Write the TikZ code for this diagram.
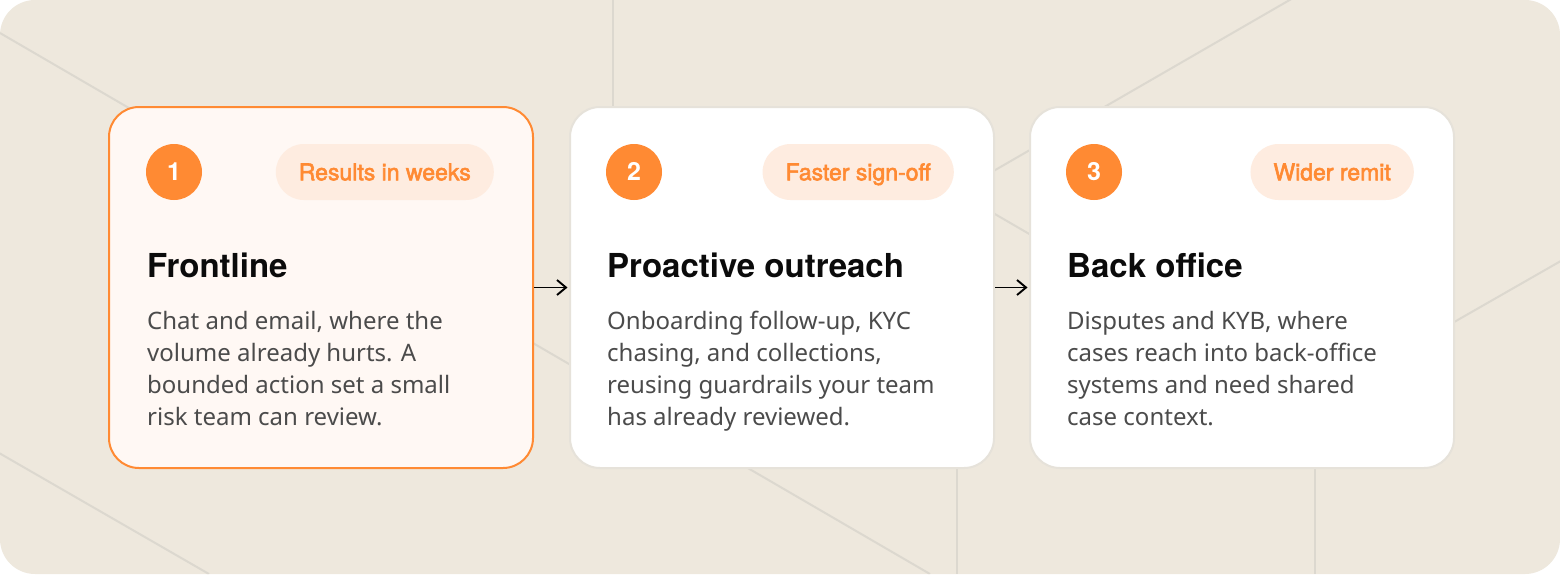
\documentclass[tikz,border=0pt]{standalone}
\usepackage{fontspec}
\usetikzlibrary{arrows.meta}
\newfontfamily\bodyfont{Noto Sans}
\newfontfamily\headfont{TeX Gyre Heros}
\newfontfamily\pillfont{TeX Gyre Heros}[FakeBold=2.5]
\definecolor{bgc}{HTML}{EEE8DD}
\definecolor{linec}{HTML}{DCD8CF}
\definecolor{orangec}{HTML}{FF8A33}
\definecolor{card1fill}{HTML}{FFF8F4}
\definecolor{cardborder}{HTML}{E6E2DA}
\definecolor{pillfill}{HTML}{FEECE0}
\definecolor{headc}{HTML}{0B0B0B}
\definecolor{bodyc}{HTML}{4B4B4B}
\tikzset{
  bgline/.style={draw=linec, line width=2pt},
  cardbox/.style={rounded corners=30pt, line width=2pt, minimum width=424pt, minimum height=361pt, anchor=north west, inner sep=0pt},
  activecard/.style={cardbox, draw=orangec, fill=card1fill},
  plaincard/.style={cardbox, draw=cardborder, fill=white},
  numdot/.style={circle, fill=orangec, minimum size=56pt, inner sep=0pt, text=white, text height=17.5pt, text depth=0pt, font=\headfont\bfseries\fontsize{25}{25}\selectfont},
  pill/.style={rounded corners=28pt, fill=pillfill, minimum height=56pt, inner xsep=23pt, inner ysep=0pt, text height=16.5pt, text depth=0pt, anchor=east, text=orangec, font=\pillfont\fontsize{23}{23}\selectfont},
  heading/.style={anchor=base west, inner sep=0pt, text=headc, font=\headfont\bfseries\fontsize{33}{33}\selectfont},
  bodytext/.style={anchor=base west, inner sep=0pt, text=bodyc, font=\bodyfont\fontsize{24}{32}\selectfont},
  flowarrow/.style={draw=black, line width=1.9pt, -{Straight Barb[length=9pt, width=15pt, line width=1.9pt]}, shorten >=1.5pt}
}
\newcommand{\bodypar}[1]{\parbox[t]{400pt}{\raggedright #1}}
\begin{document}
\begin{tikzpicture}[x=1pt, y=-1pt]
\useasboundingbox (0,0) rectangle (1560,574);
\fill[white] (0,0) rectangle (1560,574);
\fill[bgc, rounded corners=35pt] (0,0) rectangle (1560,574);
\begin{scope}
\clip[rounded corners=35pt] (0,0) rectangle (1560,574);
\draw[bgline] (0,33) -- (930,574);
\draw[bgline] (-20,442) -- (209,574);
\draw[bgline] (1300,-6) -- (900,225);
\draw[bgline] (900,159) -- (1100,275);
\draw[bgline] (1580,250) -- (1400,353);
\draw[bgline] (613,0) -- (613,200);
\draw[bgline] (957,400) -- (957,574);
\draw[bgline] (1315,400) -- (1315,574);
\end{scope}

% cards
\node[activecard] (c1) at (108,106) {};
\node[plaincard] (c2) at (569,106) {};
\node[plaincard] (c3) at (1029,106) {};

% number dots
\node[numdot] (n1) at (174,172) {1};
\node[numdot] (n2) at (634,172) {2};
\node[numdot] (n3) at (1094,172) {3};

% pills
\node[pill] (p1) at (494,172) {Results in weeks};
\node[pill] (p2) at (954,172) {Faster sign-off};
\node[pill] (p3) at (1414,172) {Wider remit};

% headings
\node[heading] (h1) at (147,277) {Frontline};
\node[heading] (h2) at (607,277) {Proactive outreach};
\node[heading] (h3) at (1067,277) {Back office};

% body
\node[bodytext] (b1) at (147,329) {\bodypar{Chat and email, where the\\volume already hurts. A\\bounded action set a small\\risk team can review.}};
\node[bodytext] (b2) at (607,329) {\bodypar{Onboarding follow-up, KYC\\chasing, and collections,\\reusing guardrails your team\\has already reviewed.}};
\node[bodytext] (b3) at (1067,329) {\bodypar{Disputes and KYB, where\\cases reach into back-office\\systems and need shared\\case context.}};

% arrows
\draw[flowarrow] (c1.east) -- (c2.west);
\draw[flowarrow] (c2.east) -- (c3.west);
\end{tikzpicture}
\end{document}
